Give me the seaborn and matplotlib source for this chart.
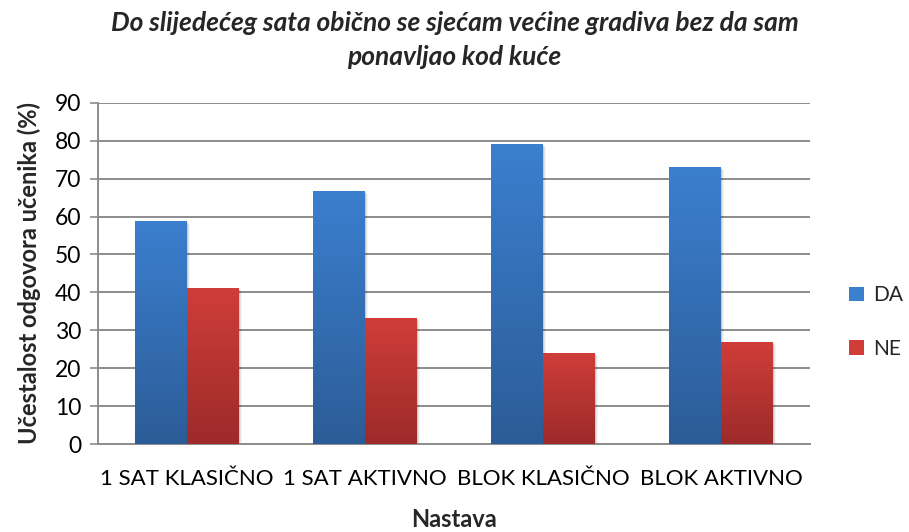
import numpy as np
import pandas as pd
import matplotlib
matplotlib.use("Agg")
import matplotlib.pyplot as plt
import seaborn as sns
from matplotlib.colors import LinearSegmentedColormap
from matplotlib.patches import Rectangle

# Values
categories = ['1 SAT KLASIČNO', '1 SAT AKTIVNO', 'BLOK KLASIČNO', 'BLOK AKTIVNO']
da_values = [58.8, 66.7, 79.1, 73.0]
ne_values = [41.2, 33.3, 24.0, 27.0]
series = ['DA', 'NE']
y_ticks = list(range(0, 100, 10))

# gradient colours (top, bottom) per series
GRAD = {
    'DA': ('#3B7FCF', '#2C5C97'),
    'NE': ('#D03D39', '#9C2B2A'),
}
GRID = '#8C8C8C'

df = pd.DataFrame({
    'Nastava': categories * 2,
    'Odgovor': ['DA'] * len(categories) + ['NE'] * len(categories),
    'Vrijednost': da_values + ne_values,
})

sns.set_style("white")
plt.rcParams['font.family'] = ['Lato', 'DejaVu Sans']

fig = plt.figure(figsize=(9.09, 5.32), dpi=100)
ax = fig.add_axes([0.1078, 0.1649, 0.7832, 0.6421])

sns.barplot(
    data=df, x='Nastava', y='Vrijednost', hue='Odgovor',
    hue_order=series, order=categories,
    palette={s: GRAD[s][0] for s in series},
    width=0.58, gap=0, saturation=1, legend=False, ax=ax,
    edgecolor='none', linewidth=0, zorder=3,
)

# paint a vertical gradient into every bar, plus a soft shadow
n = len(categories)
for i, patch in enumerate(ax.patches[:2 * n]):
    name = series[i // n]
    top_c, bot_c = GRAD[name]
    cmap = LinearSegmentedColormap.from_list(name, [bot_c, top_c])
    x0, y0 = patch.get_x(), patch.get_y()
    w, h = patch.get_width(), patch.get_height()
    for k, a in enumerate([0.10, 0.07, 0.04]):
        off = 0.006 * (k + 1)
        sh = Rectangle((x0 + off, y0 - 0.25 * (k + 1)), w, h,
                       facecolor='black', alpha=a, edgecolor='none', zorder=2)
        ax.add_patch(sh)
    grad = np.linspace(0, 1, 256).reshape(-1, 1)
    im = ax.imshow(grad, cmap=cmap, origin='lower', aspect='auto',
                   extent=(x0, x0 + w, y0, y0 + h), zorder=3.5)
    im.set_clip_path(patch)
ax.set_xlim(-0.5, 3.5)
ax.set_ylim(0, 90)

ax.set_yticks(y_ticks)
ax.yaxis.grid(True, color=GRID, linewidth=1.4, zorder=0)
ax.set_axisbelow(True)
for side in ['top', 'right']:
    ax.spines[side].set_visible(False)
ax.spines['left'].set_color(GRID)
ax.spines['left'].set_linewidth(1.4)
ax.spines['bottom'].set_color(GRID)
ax.spines['bottom'].set_linewidth(1.4)
ax.tick_params(axis='y', which='both', left=True, length=6, width=1.2,
               color=GRID, labelsize=16.5, pad=6, labelcolor='black')
ax.tick_params(axis='x', which='both', bottom=False, labelsize=16, pad=14,
               labelcolor='black')

ax.set_xlabel('Nastava', fontsize=17, fontweight='bold', labelpad=14)
ax.set_ylabel('Učestalost odgovora učenika (%)', fontsize=17,
              fontweight='bold', labelpad=10)

fig.suptitle('Do slijedećeg sata obično se sjećam većine gradiva bez da sam\nponavljao kod kuće',
             x=0.5, y=0.98, fontsize=19, fontweight='bold', style='italic',
             linespacing=1.5)

handles = [Rectangle((0, 0), 1, 1, facecolor=GRAD[s][0], edgecolor='none')
           for s in series]
fig.legend(handles, series, loc='center left', bbox_to_anchor=(0.925, 0.395),
           frameon=False, fontsize=15, handlelength=0.7, handleheight=0.7,
           labelspacing=1.6, handletextpad=0.45, borderaxespad=0)

fig.savefig('out.png', dpi=100)
plt.close(fig)
